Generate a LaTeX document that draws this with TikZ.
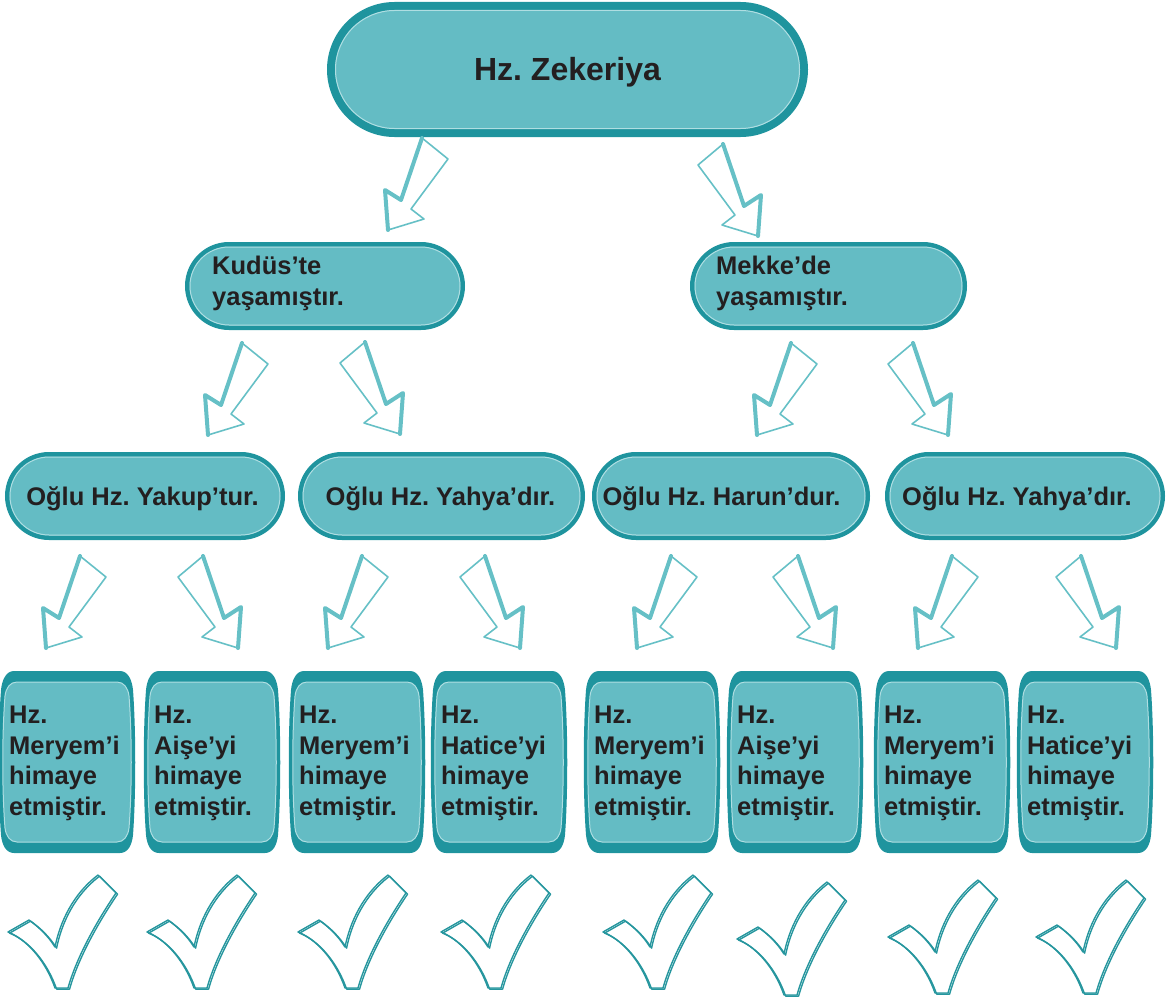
\documentclass[tikz,border=0pt]{standalone}
\usepackage{fontspec}
\setmainfont{Liberation Sans}
\frenchspacing
\definecolor{tfill}{RGB}{100,188,196}
\definecolor{tdark}{RGB}{31,148,158}
\definecolor{tarrow}{RGB}{102,192,198}
\definecolor{tcheck}{RGB}{38,150,158}
\definecolor{tlight}{RGB}{175,222,226}
\definecolor{ttext}{RGB}{35,31,32}

\newcommand\arrowL[2]{\begin{scope}[shift={(#1,#2)}]
 \draw[arrthin] (0,0) -- (-3,-40) -- (13,-30) -- (34,-92) -- (60,-71) -- (23,-21) -- (36,-11) -- cycle;
 \draw[arrthick] (34,-92) -- (13,-30) -- (-3,-40) -- (0,0);
\end{scope}}
\newcommand\arrowR[2]{\begin{scope}[shift={(#1,#2)}]
 \draw[arrthin] (0,0) -- (3,-41) -- (-14,-30) -- (-35,-92) -- (-60,-71) -- (-23,-21) -- (-36,-11) -- cycle;
 \draw[arrthick] (-35,-92) -- (-14,-30) -- (3,-41) -- (0,0);
\end{scope}}
\newcommand\boxfour[3]{\begin{scope}[shift={(#1,0)}]
 \fill[tdark] (14,671) -- (120,671) .. controls (128,671) and (132,680) .. (133,690)
   .. controls (136,730) and (136,795) .. (133,835) .. controls (132,845) and (128,853) .. (120,853)
   -- (14,853) .. controls (6,853) and (2,845) .. (1,835) .. controls (-2,795) and (-2,730) .. (1,690)
   .. controls (2,680) and (6,671) .. (14,671) -- cycle;
 \draw[tlight, line width=1pt, fill=tfill] (17,682) -- (117,682) .. controls (124,682) and (128,688) .. (129,696)
   .. controls (132,735) and (132,790) .. (129,828) .. controls (128,836) and (124,842) .. (117,842)
   -- (17,842) .. controls (10,842) and (6,836) .. (5,828) .. controls (2,790) and (2,735) .. (5,696)
   .. controls (6,688) and (10,682) .. (17,682) -- cycle;
 \node[lab, anchor=base west] (#2) at (9,815) {Hz.\\#3\\himaye\\etmiştir.};
\end{scope}}
\newcommand\checkmk[2]{\begin{scope}[shift={(#1,#2)}]
 \foreach \dx/\dy in {0/0, 1.6/1.1} {
  \draw[chk, shift={(\dx,\dy)}] (0,0) -- (21,-12) .. controls (32,-4) and (40,4) .. (47,15)
   .. controls (52,-10) and (65,-38) .. (90,-57) -- (108,-39) .. controls (95,-20) and (70,20) .. (60,56)
   -- (47,56) .. controls (38,30) and (20,8) .. (0,0) -- cycle;}
\end{scope}}

\begin{document}
\begin{tikzpicture}[x=1pt,y=-1pt,
  box/.style={draw=tdark, fill=tfill, outer sep=0pt, inner sep=0pt},
  lab/.style={text=ttext, font=\fontsize{25.5}{30.5}\selectfont\bfseries, inner sep=0pt, align=left},
  inl/.style={draw=tlight, line width=1pt},
  arrthin/.style={draw=tarrow, line width=1.6pt, line join=round},
  arrthick/.style={draw=tarrow, line width=4pt, line join=round, line cap=round},
  chk/.style={draw=tcheck, line width=1.4pt, line join=round},
]
\useasboundingbox (0,0) rectangle (1170,998);

% level 1
\node[box, line width=8pt, minimum width=473pt, minimum height=127pt, rounded corners=63.5pt,
  text=ttext, font=\fontsize{32}{38}\selectfont\bfseries, text height=23pt, text depth=0pt]
  (zek) at (567.5,69.5) {Hz. Zekeriya};
\draw[inl, rounded corners=59pt] ([shift={(4.5pt,4.5pt)}]zek.south west) rectangle ([shift={(-4.5pt,-4.5pt)}]zek.north east);

% level 2
\node[box, line width=4.5pt, minimum width=275.5pt, minimum height=83.5pt, rounded corners=41.75pt] (kud) at (325,286) {};
\node[box, line width=4.5pt, minimum width=272.5pt, minimum height=83.5pt, rounded corners=41.75pt] (mek) at (828.5,286) {};
\foreach \n in {kud,mek}
  \draw[inl, rounded corners=39pt] ([shift={(2.75pt,2.75pt)}]\n.south west) rectangle ([shift={(-2.75pt,-2.75pt)}]\n.north east);
\node[lab, anchor=base west] (kudt) at (212,305) {Kudüs’te\\yaşamıştır.};
\node[lab, anchor=base west] (mekt) at (716,305) {Mekke’de\\yaşamıştır.};

% level 3
\node[box, line width=4.5pt, minimum width=275.5pt, minimum height=83.5pt, rounded corners=41.75pt] (o1) at (145,496) {};
\node[box, line width=4.5pt, minimum width=282.5pt, minimum height=83.5pt, rounded corners=41.75pt] (o2) at (441.5,496) {};
\node[box, line width=4.5pt, minimum width=273.5pt, minimum height=83.5pt, rounded corners=41.75pt] (o3) at (731,496) {};
\node[box, line width=4.5pt, minimum width=275.5pt, minimum height=83.5pt, rounded corners=41.75pt] (o4) at (1025,496) {};
\foreach \n in {o1,o2,o3,o4}
  \draw[inl, rounded corners=39pt] ([shift={(2.75pt,2.75pt)}]\n.south west) rectangle ([shift={(-2.75pt,-2.75pt)}]\n.north east);
\node[lab, anchor=base] (o1t) at (142.5,505) {Oğlu Hz. Yakup’tur.};
\node[lab, anchor=base] (o2t) at (440.5,505) {Oğlu Hz. Yahya’dır.};
\node[lab, anchor=base] (o3t) at (721.5,505) {Oğlu Hz. Harun’dur.};
\node[lab, anchor=base] (o4t) at (1017,505) {Oğlu Hz. Yahya’dır.};

% level 4
\boxfour{0}{h1}{Meryem’i}
\boxfour{145}{h2}{Aişe’yi}
\boxfour{290}{h3}{Meryem’i}
\boxfour{432}{h4}{Hatice’yi}
\boxfour{585}{h5}{Meryem’i}
\boxfour{728}{h6}{Aişe’yi}
\boxfour{875}{h7}{Meryem’i}
\boxfour{1018}{h8}{Hatice’yi}

% arrows
\arrowL{388}{230}
\arrowR{758}{236}
\arrowL{208}{435}
\arrowR{400}{434}
\arrowL{757}{435}
\arrowR{948}{435}
\arrowL{46}{648}
\arrowR{238}{648}
\arrowL{328}{648}
\arrowR{520}{648}
\arrowL{637}{648}
\arrowR{833}{648}
\arrowL{918}{648}
\arrowR{1116}{648}

% check marks
\checkmk{8}{932}
\checkmk{147}{932}
\checkmk{298}{932}
\checkmk{441}{932}
\checkmk{603}{932}
\checkmk{737}{939}
\checkmk{888}{937}
\checkmk{1036}{937}
\end{tikzpicture}
\end{document}
